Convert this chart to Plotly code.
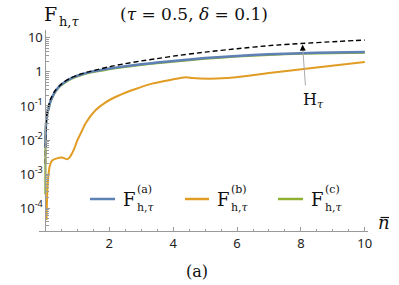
import plotly.graph_objects as go

# ---- data ----
n_h = [0.001, 0.005, 0.01, 0.02, 0.04, 0.07, 0.1, 0.15, 0.2, 0.3, 0.45, 0.6, 0.8, 1.0,
       1.3, 1.6, 2.0, 2.5, 3.0, 3.5, 4.0, 5.0, 6.0, 7.0, 8.0, 9.0, 10.0]
H_tau = [0.002, 0.008, 0.015, 0.03, 0.05, 0.075, 0.1, 0.15, 0.19, 0.28, 0.4, 0.52, 0.67, 0.8,
         0.98, 1.15, 1.42, 1.75, 2.1, 2.45, 2.9, 3.8, 4.8, 5.9, 6.8, 7.7, 8.6]

n_a = [0.001, 0.005, 0.01, 0.02, 0.04, 0.07, 0.1, 0.15, 0.2, 0.3, 0.45, 0.6, 0.8, 1.0,
       1.35, 1.6, 2.0, 2.5, 3.0, 3.5, 4.0, 5.0, 6.0, 7.0, 8.0, 9.0, 10.0]
F_a = [0.006, 0.011, 0.018, 0.03, 0.048, 0.068, 0.085, 0.13, 0.17, 0.26, 0.39, 0.5, 0.65, 0.77,
       0.97, 1.08, 1.25, 1.47, 1.68, 1.88, 2.1, 2.55, 2.95, 3.3, 3.55, 3.72, 3.85]

n_c = [0.0003, 0.001, 0.002, 0.005, 0.01, 0.02, 0.04, 0.07, 0.1, 0.15, 0.2, 0.3, 0.45, 0.6, 0.8,
       1.0, 1.35, 1.6, 2.0, 2.5, 3.0, 3.5, 4.0, 5.0, 6.0, 7.0, 8.0, 9.0, 10.0]
F_c = [0.00025, 0.0015, 0.004, 0.0095, 0.017, 0.029, 0.046, 0.065, 0.082, 0.125, 0.165, 0.25, 0.375,
       0.48, 0.62, 0.74, 0.93, 1.03, 1.2, 1.41, 1.61, 1.8, 2.01, 2.44, 2.83, 3.17, 3.41, 3.57, 3.7]

n_b = [0.035, 0.045, 0.055, 0.07, 0.1, 0.135, 0.21, 0.36, 0.52, 0.6, 0.68, 0.76, 0.83, 0.91, 0.99,
       1.15, 1.25, 1.56, 1.875, 2.28, 2.8, 3.37, 3.9, 4.4, 4.6, 4.84, 5.36, 6.1, 6.72, 7.0, 8.28, 10.0]
F_b = [4.5e-5, 1.1e-4, 2.3e-4, 4.5e-4, 1.0e-3, 1.7e-3, 2.5e-3, 2.9e-3, 3.06e-3, 2.9e-3, 2.72e-3,
       3.1e-3, 4.0e-3, 5.8e-3, 9.3e-3, 1.9e-2, 3.0e-2, 7.4e-2, 0.126, 0.2, 0.31, 0.46, 0.58, 0.70,
       0.66, 0.64, 0.64, 0.72, 0.85, 0.93, 1.28, 1.95]

x_ticks = [2, 4, 6, 8, 10]
y_ticks = [1e-4, 1e-3, 1e-2, 1e-1, 1, 10]
y_ticktext = ["10<sup>-4</sup>", "10<sup>-3</sup>", "10<sup>-2</sup>", "10<sup>-1</sup>", "1", "10"]
legend_labels = ["(a)", "(b)", "(c)"]

C_A, C_B, C_C = "#5E81B5", "#E19C24", "#8FB032"
AX = "#9a9a9a"
SERIF = "DejaVu Serif"
SANS = "Noto Sans"

W, H = 399, 285
L, R, T, B = 39, 31, 30, 54
XR = [-0.2, 10.1]


def px(xp):
    return (xp - L) / (W - L - R)


def py(yp):
    return (H - B - yp) / (H - T - B)


fig = go.Figure()
fig.add_trace(go.Scatter(x=n_b, y=F_b, mode="lines", line=dict(color=C_B, width=2, shape="spline", smoothing=0.7),
                         showlegend=False))
fig.add_trace(go.Scatter(x=n_c, y=F_c, mode="lines", line=dict(color=C_C, width=2.2, shape="spline", smoothing=0.6),
                         showlegend=False))
fig.add_trace(go.Scatter(x=n_a, y=F_a, mode="lines", line=dict(color=C_A, width=2.5, shape="spline", smoothing=0.6),
                         showlegend=False))
fig.add_trace(go.Scatter(x=n_h, y=H_tau, mode="lines",
                         line=dict(color="black", width=1.4, dash="5px,3px", shape="spline", smoothing=0.6),
                         showlegend=False))

minor_x = [v * 0.5 for v in range(1, 21) if (v * 0.5) not in x_ticks]
minor_y = [k * 10 ** e for e in range(-5, 2) for k in range(2, 10) if 10 ** -4.67 < k * 10 ** e < 10 ** 1.23]

fig.update_xaxes(range=XR, showline=True, linecolor=AX, linewidth=1, ticks="inside", ticklen=4,
                 tickcolor=AX, tickvals=x_ticks, showgrid=False, zeroline=False, automargin=False,
                 tickfont=dict(family=SANS, size=13, color="#222"),
                 minor=dict(tickvals=minor_x, ticks="inside", ticklen=2.5, tickcolor=AX))
fig.update_yaxes(type="log", range=[-4.67, 1.23], showline=True, linecolor=AX, linewidth=1,
                 anchor="free", position=(0 - XR[0]) / (XR[1] - XR[0]), automargin=False,
                 ticks="inside", ticklen=4, tickcolor=AX, tickvals=y_ticks, ticktext=y_ticktext,
                 showgrid=False, zeroline=False, tickfont=dict(family=SANS, size=13, color="#222"),
                 minor=dict(tickvals=minor_y, ticks="inside", ticklen=2.5, tickcolor=AX))

ann = []
# legend (manual, to stack super/subscripts)
leg_x = [(90, 115), (185, 209), (278, 303)]
cols = [C_A, C_B, C_C]
shapes = []
for (x0, x1), c, lab in zip(leg_x, cols, legend_labels):
    shapes.append(dict(type="line", xref="paper", yref="paper", x0=px(x0), x1=px(x1), y0=py(199), y1=py(199),
                       line=dict(color=c, width=2.5)))
    fx = x1 + 14
    ann.append(dict(text="F", x=px(fx), y=py(199.5), xref="paper", yref="paper", showarrow=False,
                    font=dict(family=SERIF, size=18, color="#111"), xanchor="center", yanchor="middle"))
    ann.append(dict(text=lab, x=px(fx + 6), y=py(189), xref="paper", yref="paper", showarrow=False,
                    font=dict(family=SERIF, size=11, color="#111"), xanchor="left", yanchor="middle"))
    ann.append(dict(text="h,<i>τ</i>", x=px(fx + 6), y=py(207), xref="paper", yref="paper", showarrow=False,
                    font=dict(family=SERIF, size=11, color="#111"), xanchor="left", yanchor="middle"))

# H_tau label with arrow
ann.append(dict(x=8.05, y=0.79, xref="x", yref="y", text="", showarrow=True, ax=3, ay=42,
                arrowcolor="#aaaaaa", arrowwidth=1, arrowhead=0, standoff=0))
ann.append(dict(x=8.05, y=0.80, xref="x", yref="y", text="", showarrow=True, ax=0.3, ay=6,
                arrowcolor="black", arrowwidth=1, arrowhead=2, arrowsize=1.2, standoff=0))
ann.append(dict(text="H<sub><i>τ</i></sub>", x=px(313), y=py(100), xref="paper", yref="paper", showarrow=False,
                font=dict(family=SERIF, size=16, color="#111"), xanchor="center", yanchor="middle"))
# axis label: n with a bar
ann.append(dict(text="<i>n</i>", x=px(384), y=py(222), xref="paper", yref="paper", showarrow=False,
                font=dict(family=SERIF, size=18, color="#111"), xanchor="center", yanchor="middle"))
shapes.append(dict(type="line", xref="paper", yref="paper", x0=px(380.5), x1=px(389), y0=py(217.5), y1=py(217.5),
                   line=dict(color="#111", width=1.2)))
# panel label
ann.append(dict(text="(a)", x=px(197), y=py(271), xref="paper", yref="paper", showarrow=False,
                font=dict(family=SERIF, size=16, color="#111"), xanchor="center", yanchor="middle"))
# title, in pieces so the subscript can be sized like the reference
ann.append(dict(text="F", x=px(42), y=py(14), xref="paper", yref="paper", showarrow=False,
                font=dict(family=SERIF, size=19, color="#111"), xanchor="left", yanchor="middle"))
ann.append(dict(text="h,<i>τ</i>", x=px(57), y=py(21), xref="paper", yref="paper", showarrow=False,
                font=dict(family=SERIF, size=13, color="#111"), xanchor="left", yanchor="middle"))
ann.append(dict(text="(<i>τ</i> = 0.5, <i>δ</i> = 0.1)", x=px(118), y=py(14), xref="paper", yref="paper",
                showarrow=False, font=dict(family=SERIF, size=17, color="#111"), xanchor="left",
                yanchor="middle"))

fig.update_layout(width=W, height=H, margin=dict(l=L, r=R, t=T, b=B), paper_bgcolor="white",
                  plot_bgcolor="white", annotations=ann, shapes=shapes, showlegend=False)
fig.write_html("out.html", config={"displayModeBar": False},
               post_script="document.body.style.margin='0';")
